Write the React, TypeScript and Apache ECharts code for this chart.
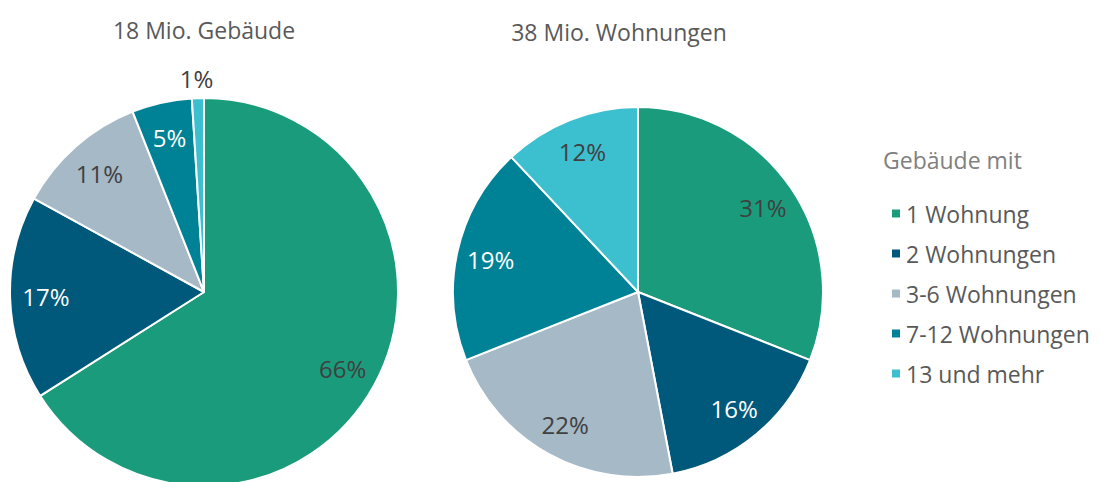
import React, { useEffect, useRef } from "react";
import * as echarts from "echarts";

const categories = ["1 Wohnung", "2 Wohnungen", "3-6 Wohnungen", "7-12 Wohnungen", "13 und mehr"];
const colors = ["#1a9c7c", "#00587a", "#a6b9c6", "#008296", "#3cc0d0"];
const labelColors = ["#404040", "#ffffff", "#404040", "#ffffff", "#404040"];
const gebaeudeValues = [66, 17, 11, 5, 1];
const wohnungenValues = [31, 16, 22, 19, 12];
const titles = ["18 Mio. Gebäude", "38 Mio. Wohnungen"];
const legendTitle = "Gebäude mit";

const FONT = "Open Sans";

function makeSeries(values: number[], center: [number, number], r: number, outsideIdx: number[]) {
  const main = {
    type: "pie",
    center,
    radius: [0, r],
    startAngle: 90,
    clockwise: true,
    silent: true,
    label: { show: false },
    labelLine: { show: false },
    itemStyle: { borderColor: "#ffffff", borderWidth: 2 },
    data: values.map((v, i) => ({ name: categories[i], value: v, itemStyle: { color: colors[i] } })),
  };
  const labels = {
    type: "pie",
    center,
    radius: [r * 0.6, r],
    startAngle: 90,
    clockwise: true,
    silent: true,
    itemStyle: { color: "rgba(0,0,0,0)" },
    labelLine: { show: false },
    data: values.map((v, i) => {
      const outside = outsideIdx.includes(i);
      return {
        name: categories[i],
        value: v,
        label: outside
          ? { show: true, position: "outside", color: "#404040", distanceToLabelLine: -16 }
          : { show: true, position: "inside", color: labelColors[i] },
        labelLine: outside ? { show: false, length: 20, length2: 0 } : { show: false },
      };
    }),
    label: {
      formatter: "{c}%",
      fontFamily: FONT,
      fontSize: 24,
    },
  };
  return [main, labels];
}

export default function App() {
  const ref = useRef<HTMLDivElement>(null);
  useEffect(() => {
    if (!ref.current) return;
    const chart = echarts.init(ref.current, null, { renderer: "svg" });
    chart.setOption({
      animation: false,
      backgroundColor: "#ffffff",
      graphic: [
        { type: "text", x: 204, y: 30, style: { text: titles[0], fill: "#595959", fontFamily: FONT, fontSize: 23, textAlign: "center", textVerticalAlign: "middle" } },
        { type: "text", x: 619, y: 32, style: { text: titles[1], fill: "#595959", fontFamily: FONT, fontSize: 23, textAlign: "center", textVerticalAlign: "middle" } },
        { type: "text", x: 883, y: 160, style: { text: legendTitle, fill: "#808080", fontFamily: FONT, fontSize: 23, textAlign: "left", textVerticalAlign: "middle" } },
      ],
      legend: {
        orient: "vertical",
        left: 885,
        top: 197,
        itemWidth: 10,
        itemHeight: 10,
        itemGap: 17,
        icon: "rect",
        selectedMode: false,
        data: categories.map((c, i) => ({ name: c, itemStyle: { color: colors[i] } })),
        textStyle: { fontFamily: FONT, fontSize: 23, color: "#595959", lineHeight: 20.5 },
      },
      series: [
        ...makeSeries(gebaeudeValues, [204, 292], 194, [4]),
        ...makeSeries(wohnungenValues, [638, 292], 185, []),
      ],
    });
    return () => chart.dispose();
  }, []);
  return <div ref={ref} style={{ position: "fixed", left: 0, top: 0, width: 1100, height: 482 }} />;
}
